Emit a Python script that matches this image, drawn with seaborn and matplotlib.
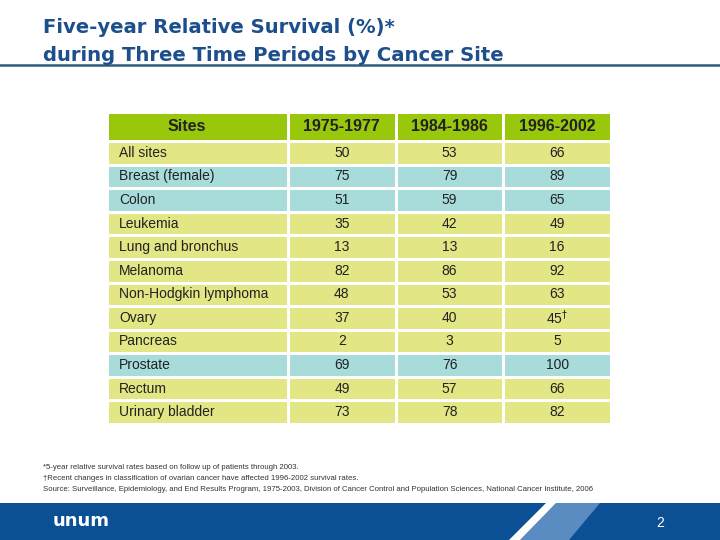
import numpy as np
import matplotlib
matplotlib.use("Agg")
import matplotlib.pyplot as plt
import seaborn as sns
from matplotlib.colors import ListedColormap
from matplotlib.patches import Polygon, Rectangle
from matplotlib.lines import Line2D

# table content
sites = ['All sites', 'Breast (female)', 'Colon', 'Leukemia', 'Lung and bronchus',
         'Melanoma', 'Non-Hodgkin lymphoma', 'Ovary', 'Pancreas', 'Prostate',
         'Rectum', 'Urinary bladder']
periods = ['1975-1977', '1984-1986', '1996-2002']
surv_1975 = [50, 75, 51, 35, 13, 82, 48, 37, 2, 69, 49, 73]
surv_1984 = [53, 79, 59, 42, 13, 86, 53, 40, 3, 76, 57, 78]
surv_1996 = [66, 89, 65, 49, 16, 92, 63, 45, 5, 100, 66, 82]
# 0 = yellow row, 1 = teal row
row_shade = [0, 1, 1, 0, 0, 0, 0, 0, 0, 1, 0, 0]

footnotes = [
    '*5-year relative survival rates based on follow up of patients through 2003.',
    '\u2020Recent changes in classification of ovarian cancer have affected 1996-2002 survival rates.',
    'Source: Surveillance, Epidemiology, and End Results Program, 1975-2003, Division of Cancer Control '
    'and Population Sciences, National Cancer Institute, 2006',
]

yellow = '#e2e684'
teal = '#a7dcdb'
green = '#99c70c'
cmap = ListedColormap([yellow, teal, green])
txt_col = '#222222'

sns.set_style('white')
plt.rcParams['font.family'] = ['Liberation Sans', 'DejaVu Sans']

W, H = 720, 540
fig = plt.figure(figsize=(7.2, 5.4), dpi=100)


def px_axes(x0, y0, x1, y1):
    return fig.add_axes([x0 / W, 1 - y1 / H, (x1 - x0) / W, (y1 - y0) / H])


codes = np.array(row_shade).reshape(-1, 1)
vals = np.column_stack([surv_1975, surv_1984, surv_1996])
labels = vals.astype(str).astype(object)
labels[sites.index('Ovary'), 2] = '45$^{\u2020}$'

hkw = dict(cmap=cmap, vmin=-0.5, vmax=2.5, cbar=False, linewidths=1.8,
           linecolor='white', xticklabels=False, yticklabels=False)

# header
ax_h1 = px_axes(107, 112, 288, 141)
sns.heatmap(np.array([[2]]), annot=False, ax=ax_h1, **hkw)
ax_h1.text(0.44, 0.5, 'Sites', ha='center', va='center', fontsize=11.5,
           weight='bold', color=txt_col)
ax_h2 = px_axes(288, 112, 611, 141)
sns.heatmap(np.array([[2, 2, 2]]), annot=np.array([periods]), fmt='',
            annot_kws=dict(size=11.5, weight='bold', color=txt_col), ax=ax_h2, **hkw)

# body
ax_s = px_axes(107, 141, 288, 424)
sns.heatmap(codes, annot=False, ax=ax_s, **hkw)
for i, s in enumerate(sites):
    ax_s.text(0.066, i + 0.5, s, ha='left', va='center', fontsize=10, color=txt_col)

ax_v = px_axes(288, 141, 611, 424)
sns.heatmap(np.repeat(codes, 3, axis=1), annot=labels, fmt='',
            annot_kws=dict(size=10, color=txt_col), ax=ax_v, **hkw)

# title
title_col = '#1d4f8c'
fig.text(43 / W, 1 - 33 / H, 'Five-year Relative Survival (%)*', fontsize=14.1,
         weight='bold', color=title_col, family='DejaVu Sans', va='baseline')
fig.text(43 / W, 1 - 61 / H, 'during Three Time Periods by Cancer Site', fontsize=14.1,
         weight='bold', color=title_col, family='DejaVu Sans', va='baseline')
fig.add_artist(Line2D([0, 1], [1 - 65.5 / H] * 2, color='#2c5b7e', lw=1.8))

# footnotes
for k, t in enumerate(footnotes):
    fig.text(43 / W, 1 - (469 + 11 * k) / H, t, fontsize=5.55, color='#333333', va='baseline')

# footer bar
fig.add_artist(Rectangle((0, 0), 1, 37 / H, transform=fig.transFigure,
                         facecolor='#0b4f95', edgecolor='none'))


def px_poly(pts, color):
    fig.add_artist(Polygon([(x / W, 1 - y / H) for x, y in pts], closed=True,
                           transform=fig.transFigure, facecolor=color, edgecolor='none'))


px_poly([(556, 503), (600, 503), (569, 540), (520, 540)], '#5a8cc2')
px_poly([(546, 503), (556, 503), (520, 540), (509, 540)], 'white')
fig.text(81 / W, 1 - 521 / H, 'unum', fontsize=13, weight='bold', color='white',
         family='DejaVu Sans', ha='center', va='center')
fig.text(660 / W, 1 - 523 / H, '2', fontsize=10, color='white', ha='center', va='center')

fig.savefig('out.png', dpi=100)
